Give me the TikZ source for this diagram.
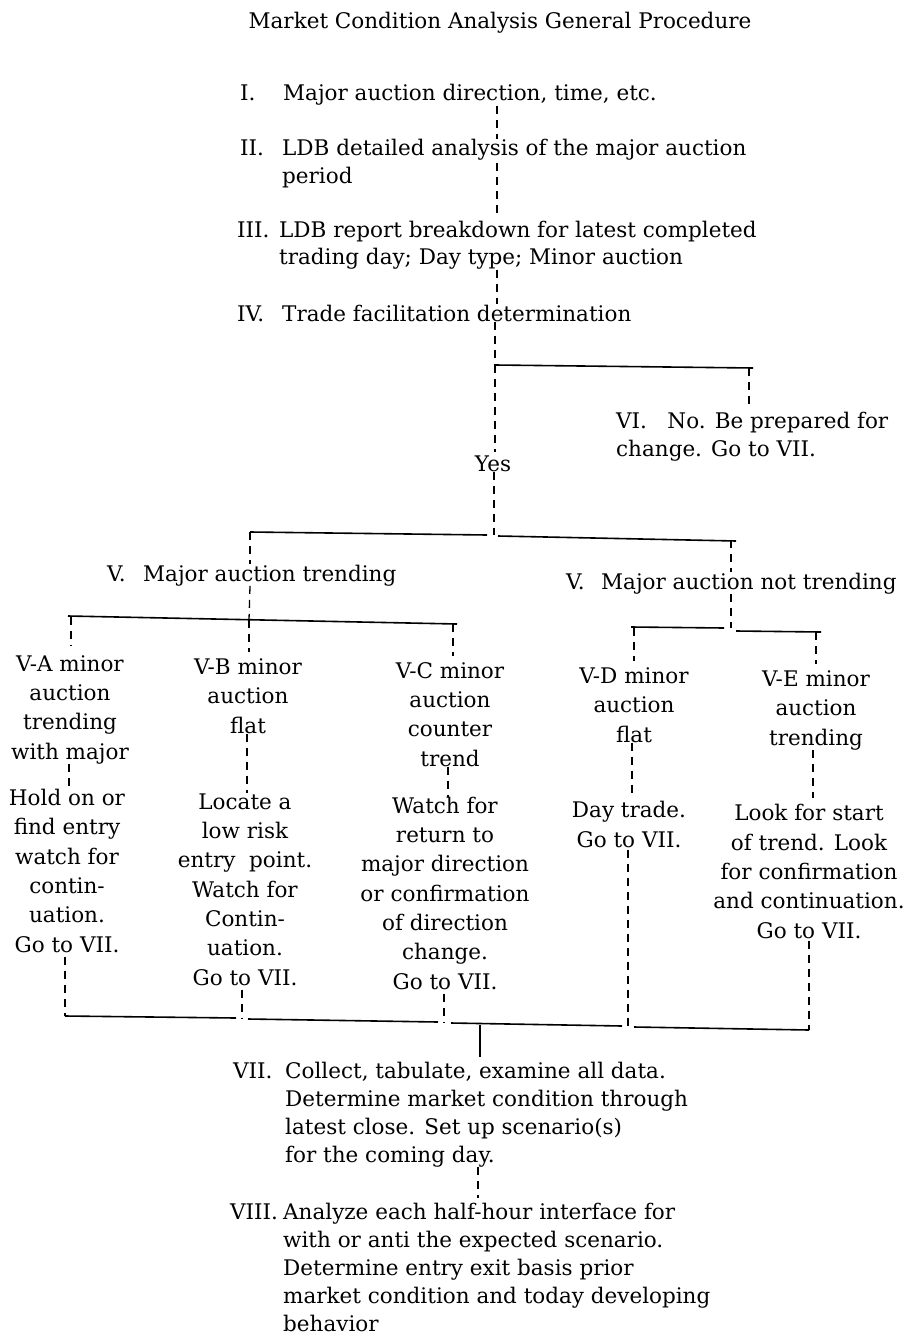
\documentclass[tikz,border=0pt]{standalone}
\usepackage{fontspec}
\setmainfont{DejaVu Serif}
\begin{document}
\begin{tikzpicture}[x=1pt,y=-1pt,
  txt/.style={inner sep=0pt, font=\fontsize{21.5}{28}\selectfont},
  blk/.style={txt, align=left, anchor=base west},
  lbl/.style={txt, anchor=base west},
  col/.style={inner sep=0pt, font=\fontsize{21.5}{29.3}\selectfont, align=center, anchor=base},
  solidln/.style={line width=1.6pt},
  dashln/.style={line width=1.3pt, dash pattern=on 8pt off 6pt},
]
\path[use as bounding box, fill=white] (0,0) rectangle (909,1340);

% ---- title and steps I-IV (multi-line nodes are placed by the baseline of their last line)
\node[txt, anchor=base] (title) at (500,29) {Market Condition Analysis General Procedure};
\node[lbl] (lI) at (240,101) {I.};
\node[blk] (tI) at (283,101) {Major auction direction, time, etc.};
\node[lbl] (lII) at (240,156) {II.};
\node[blk] (tII) at (282,184) {LDB detailed analysis of the major auction\\period};
\node[lbl] (lIII) at (237,237) {III.};
\node[blk] (tIII) at (279,265) {LDB report breakdown for latest completed\\trading day; Day type; Minor auction};
\node[lbl] (lIV) at (237,321) {IV.};
\node[blk] (tIV) at (282,321) {Trade facilitation determination};

\coordinate (trunk) at (497,0);
\draw[dashln] (tI.south -| trunk) -- (tII.north -| trunk);
\draw[dashln] (tII.north -| trunk) ++(0,24) -- ([yshift=6pt]tIII.north -| trunk);
\draw[dashln] (tIII.south -| trunk) -- (tIV.north -| trunk);

% ---- branch 1 : yes / no
\coordinate (b1) at (495,365);
\coordinate (b1r) at (753,368);
\coordinate (xVI) at (749,368);
\draw[dashln] (tIV.south -| b1) -- (b1);
\draw[solidln] (b1) -- (b1r);
\node[blk] (tVI) at (616,456) {VI.\hspace{0.95em}No. Be prepared for\\change. Go to VII.};
\draw[dashln] (xVI) -- ([yshift=6pt]tVI.north -| xVI);
\node[txt, anchor=base] (yes) at (493,471) {Yes};
\draw[dashln] (b1) -- ([yshift=3pt]yes.north -| b1);

% ---- branch 2 : trending / not trending
\coordinate (b2) at (494,535);
\coordinate (b2L) at (250,532);
\coordinate (b2R) at (731,540);
\draw[dashln] (yes.south -| b2) -- (b2);
\draw[solidln] (b2L) -- (487,535);
\draw[solidln] (498,536) -- (736,541);

\node[lbl] (lV1) at (107,581) {V.};
\node[blk] (tV1) at (143,581) {Major auction trending};
\node[lbl] (lV2) at (566,589) {V.};
\node[blk] (tV2) at (601,589) {Major auction not trending};
\draw[dashln] (b2L) -- (tV1.north -| b2L);
\draw[dashln] (b2R) -- (tV2.north -| b2R);

% ---- branch 3 : V-A, V-B, V-C
\coordinate (b3A) at (71,617);
\coordinate (b3B) at (249,620);
\coordinate (b3C) at (453,624);
\draw[dashln] (tV1.south -| b2L) -- (b3B);
\draw[solidln] (68,616) -- (457,624);

% ---- branch 4 : V-D, V-E
\coordinate (b4) at (731,628);
\coordinate (b4D) at (634,628);
\coordinate (b4E) at (816,632);
\draw[dashln] (tV2.south -| b4) -- (b4);
\draw[solidln] (631,627) -- (724,628);
\draw[solidln] (736,631) -- (821,632);

% ---- columns
\node[col] (vAt) at (70,759) {V-A minor\\auction\\trending\\with major};
\node[col] (vAb) at (67,952) {Hold on or\\find entry\\watch for\\contin-\\uation.\\Go to VII.};
\node[col] (vBt) at (248,733) {V-B minor\\auction\\flat};
\node[col] (vBb) at (245,985) {Locate a\\low risk\\entry\ \ point.\\Watch for\\Contin-\\uation.\\Go to VII.};
\node[col] (vCt) at (450,766) {V-C minor\\auction\\counter\\trend};
\node[col] (vCb) at (445,989) {Watch for\\return to\\major direction\\or confirmation\\of direction\\change.\\Go to VII.};
\node[col] (vDt) at (634,742) {V-D minor\\auction\\flat};
\node[col] (vDb) at (629,847) {Day trade.\\Go to VII.};
\node[col] (vEt) at (816,745) {V-E minor\\auction\\trending};
\node[col] (vEb) at (809,938) {Look for start\\of trend. Look\\for confirmation\\and continuation.\\Go to VII.};

\draw[dashln] (b3A) -- ([yshift=10pt]vAt.north -| b3A);
\draw[dashln] (b3B) -- ([yshift=6pt]vBt.north -| b3B);
\draw[dashln] (b3C) -- ([yshift=6pt]vCt.north -| b3C);
\draw[dashln] (b4D) -- ([yshift=6pt]vDt.north -| b4D);
\draw[dashln] (b4E) -- ([yshift=6pt]vEt.north -| b4E);

\coordinate (xA) at (69,0);
\coordinate (xB) at (247,0);
\coordinate (xC) at (448,0);
\coordinate (xD) at (632,0);
\coordinate (xE) at (813,0);
\draw[dashln] (vAt.south -| xA) -- (vAb.north -| xA);
\draw[dashln] (vBt.south -| xB) -- (vBb.north -| xB);
\draw[dashln] (vCt.south -| xC) -- (vCb.north -| xC);
\draw[dashln] (vDt.south -| xD) -- ([yshift=6pt]vDb.north -| xD);
\draw[dashln] (vEt.south -| xE) -- ([yshift=6pt]vEb.north -| xE);

% ---- collecting line
\coordinate (cA) at (65,1016);
\coordinate (cB) at (242,1019);
\coordinate (cC) at (444,1023);
\coordinate (cD) at (628,1027);
\coordinate (cE) at (809,1030);
\draw[dashln] ([yshift=-4pt]vAb.south -| cA) -- (cA);
\draw[dashln] ([yshift=-4pt]vBb.south -| cB) -- (cB);
\draw[dashln] ([yshift=-4pt]vCb.south -| cC) -- (cC);
\draw[dashln] ([yshift=-2pt]vDb.south -| cD) -- (cD);
\draw[dashln] ([yshift=-2pt]vEb.south -| cE) -- (cE);
\draw[solidln] (cA) -- (236,1018);
\draw[solidln] (248,1019) -- (438,1022);
\draw[solidln] (451,1023) -- (622,1026);
\draw[solidln] (634,1027) -- (cE);

% ---- VII and VIII
\coordinate (c7) at (480,1025);
\node[lbl] (lVII) at (233,1078) {VII.};
\node[blk] (tVII) at (285,1162) {Collect, tabulate, examine all data.\\Determine market condition through\\latest close. Set up scenario(s)\\for the coming day.};
\draw[solidln] (c7) -- ([yshift=4pt]tVII.north -| c7);
\node[lbl] (lVIII) at (230,1219) {VIII.};
\node[blk] (tVIII) at (283,1331) {Analyze each half-hour interface for\\with or anti the expected scenario.\\Determine entry exit basis prior\\market condition and today developing\\behavior};
\coordinate (x8) at (478,0);
\draw[dashln] (tVII.south -| x8) -- ([yshift=4pt]tVIII.north -| x8);
\end{tikzpicture}
\end{document}
